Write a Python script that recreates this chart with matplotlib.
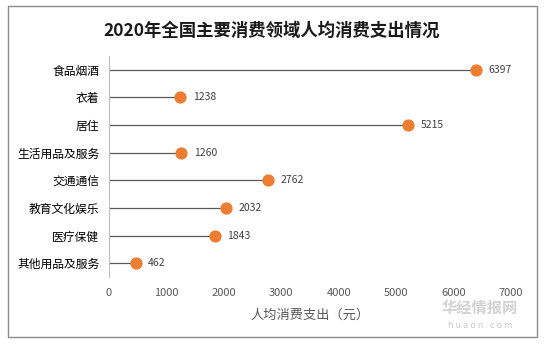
import matplotlib.pyplot as plt
from matplotlib.patches import Rectangle

plt.rcParams['font.family'] = ['Noto Sans CJK SC', 'DejaVu Sans']

categories = ['食品烟酒', '衣着', '居住', '生活用品及服务', '交通通信', '教育文化娱乐', '医疗保健', '其他用品及服务']
values = [6397, 1238, 5215, 1260, 2762, 2032, 1843, 462]
xticks = [0, 1000, 2000, 3000, 4000, 5000, 6000, 7000]

W, H = 545, 344
fig = plt.figure(figsize=(W / 100, H / 100), dpi=100)
ax = fig.add_axes([109 / W, 1 - 277 / H, (511 - 109) / W, (277 - 56) / H])

ypos = list(range(len(categories)))
ax.hlines(ypos, 0, values, color='#595959', linewidth=0.9, zorder=2)
ax.plot(values, ypos, 'o', color='#ED7D31', markersize=7.8, zorder=3)
for v, y in zip(values, ypos):
    ax.annotate(str(v), (v, y), xytext=(9, 0), textcoords='offset points',
                va='center', ha='left', fontsize=7.5, color='#404040')

ax.set_xlim(0, 7000)
ax.set_ylim(len(categories) - 0.5, -0.5)
ax.set_yticks(ypos)
ax.set_yticklabels(categories, fontsize=8.5, color='black')
ax.set_xticks(xticks)
ax.set_xticklabels([str(t) for t in xticks], fontsize=8, color='#595959')
ax.tick_params(axis='both', length=0)
ax.tick_params(axis='y', pad=7)
ax.tick_params(axis='x', pad=8)
for s in ['top', 'right', 'bottom']:
    ax.spines[s].set_visible(False)
ax.spines['left'].set_color('#BFBFBF')
ax.spines['left'].set_linewidth(0.8)

ax.set_xlabel('人均消费支出（元）', fontsize=9.5, color='#595959', labelpad=8)
fig.text(272 / W, 1 - 31 / H, '2020年全国主要消费领域人均消费支出情况',
         ha='center', va='center', fontsize=12.5, fontweight='bold', color='#1a1a1a')

# watermark (kept just below the tick labels)
fig.text(480 / W, 1 - 308 / H, '华经情报网', ha='center', va='center',
         fontsize=11, fontweight='bold', color='#C8C8C8', alpha=0.8)
fig.text(480 / W, 1 - 325 / H, 'h u a o n . c o m', ha='center', va='center',
         fontsize=6.5, color='#C8C8C8')

fig.patches.append(Rectangle((7.5 / W, 1 - 337 / H), (537 - 7.5) / W, (337 - 6) / H,
                             transform=fig.transFigure, fill=False,
                             edgecolor='#8C8C8C', linewidth=1))

fig.savefig('out.png', dpi=100)
